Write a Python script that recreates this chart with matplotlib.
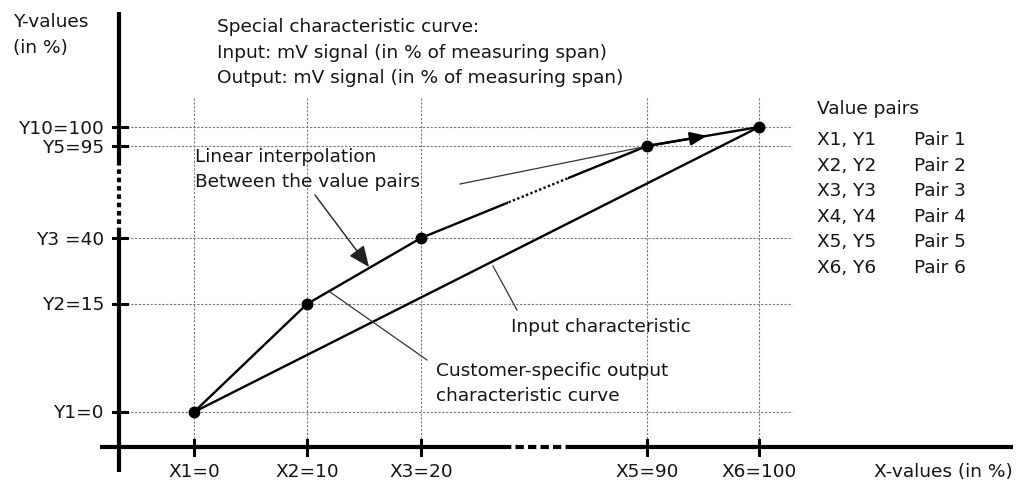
import numpy as np
import matplotlib
matplotlib.use("Agg")
import matplotlib.pyplot as plt
import matplotlib.transforms as mtransforms
from matplotlib.patches import Rectangle

# value pairs shown on the broken axes (X4 is left out of the drawing)
x_values = [0, 10, 20, 90, 100]
y_values = [0, 15, 40, 95, 100]
x_labels = ["X1=0", "X2=10", "X3=20", "X5=90", "X6=100"]
y_labels = ["Y1=0", "Y2=15", "Y3 =40", "Y5=95", "Y10=100"]

# customer-specific output curve and the input characteristic
out_x = [0, 10, 20, 90, 100]
out_y = [0, 15, 40, 95, 100]
in_x = [0, 100]
in_y = [0, 100]

pair_names = ["X1, Y1", "X2, Y2", "X3, Y3", "X4, Y4", "X5, Y5", "X6, Y6"]
pair_labels = ["Pair 1", "Pair 2", "Pair 3", "Pair 4", "Pair 5", "Pair 6"]
title_lines = ["Special characteristic curve:",
               "Input: mV signal (in % of measuring span)",
               "Output: mV signal (in % of measuring span)"]

W, H = 1028, 483
# where the values sit in the drawing (pixels from top left), axes are not to scale
x_pos = [194, 307, 421, 647, 759]
y_pos = [412, 304, 238, 146, 127]


def piecewise(src, dst):
    src = np.asarray(src, float)
    dst = np.asarray(dst, float)
    s0 = (dst[1] - dst[0]) / (src[1] - src[0])
    s1 = (dst[-1] - dst[-2]) / (src[-1] - src[-2])

    def f(v):
        v = np.asarray(v, float)
        out = np.interp(v, src, dst)
        out = np.where(v < src[0], dst[0] + (v - src[0]) * s0, out)
        out = np.where(v > src[-1], dst[-1] + (v - src[-1]) * s1, out)
        return out
    return f


yp = H - np.array(y_pos, float)
fx, fx_inv = piecewise(x_values, x_pos), piecewise(x_pos, x_values)
fy, fy_inv = piecewise(y_values, yp), piecewise(yp, y_values)

plt.rcParams['font.family'] = ['DejaVu Sans']
fs = 13.3
tc = '#141414'

fig = plt.figure(figsize=(W / 100, H / 100), dpi=100)
ax = fig.add_axes([0, 0, 1, 1])
ax.set_xscale('function', functions=(fx, fx_inv))
ax.set_yscale('function', functions=(fy, fy_inv))
ax.set_xlim(float(fx_inv(0)), float(fx_inv(W)))
ax.set_ylim(float(fy_inv(0)), float(fy_inv(H)))
ax.set_axis_off()

# pixel coords from top left, and blends of data with pixels
pix = mtransforms.Affine2D().scale(1.0 / W, -1.0 / H).translate(0, 1) + fig.transFigure
bx = mtransforms.blended_transform_factory(ax.transData, pix)
by = mtransforms.blended_transform_factory(pix, ax.transData)

# grid
grid_kw = dict(color='#777777', lw=0.8, linestyle=(0, (2, 1.5)), zorder=1)
for xv in x_values:
    ax.plot([xv, xv], [98, 447], transform=bx, **grid_kw)
for yv in y_values:
    ax.plot([119, 792], [yv, yv], transform=by, **grid_kw)

# broken axes
ax_kw = dict(color='black', lw=3, solid_capstyle='butt', zorder=3)
ax.plot([119, 119], [12, 161], transform=pix, **ax_kw)
ax.plot([119, 119], [161, 228], transform=pix, linestyle=(0, (1.1, 0.9)), **ax_kw)
ax.plot([119, 119], [228, 472], transform=pix, **ax_kw)
ax.plot([100, 508], [447, 447], transform=pix, **ax_kw)
ax.plot([508, 568], [447, 447], transform=pix, linestyle=(1.2, (2.0, 1.0)), **ax_kw)
ax.plot([568, 1013], [447, 447], transform=pix, **ax_kw)

# ticks and tick labels
for xv, lab in zip(x_values, x_labels):
    ax.plot([xv, xv], [440, 455], transform=bx, color='black', lw=2.2, zorder=3)
    ax.text(xv, 477, lab, transform=bx, ha='center', va='baseline', fontsize=fs, color=tc)
lab_tr = mtransforms.offset_copy(by, fig=fig, y=-6.5, units='dots')
for yv, lab in zip(y_values, y_labels):
    ax.plot([113, 127], [yv, yv], transform=by, color='black', lw=2.2, zorder=3)
    ax.text(104, yv, lab, transform=lab_tr, ha='right', va='baseline', fontsize=fs, color=tc)

# input characteristic
ax.plot(in_x, in_y, color='black', lw=1.7, zorder=4)

# output curve, dotted where the x axis is broken
for x0, x1, ls in [(0, 508, '-'), (508, 568, (0, (1, 1))), (568, W, '-')]:
    ln, = ax.plot(out_x, out_y, color='black', lw=1.7, linestyle=ls, zorder=4)
    ln.set_clip_path(Rectangle((x0, 0), x1 - x0, H, transform=pix))
ax.plot(out_x, out_y, 'o', color='black', ms=7.5, zorder=5)
ax.annotate('', xy=(out_x[-1], out_y[-1]), xytext=(out_x[-2], out_y[-2]),
            arrowprops=dict(arrowstyle='-|>,head_length=0.5,head_width=0.2',
                            color='black', lw=1.7, shrinkA=0, shrinkB=38,
                            mutation_scale=20), zorder=5)

# annotations
ax.annotate('', xy=(369, 267), xytext=(315, 195), xycoords=pix, textcoords=pix,
            arrowprops=dict(arrowstyle='-|>,head_length=0.65,head_width=0.28',
                            color='#222222', lw=1.0, shrinkA=0, shrinkB=0,
                            mutation_scale=20))
lead_kw = dict(transform=pix, color='#333333', lw=0.9, zorder=4)
ax.plot([460, 643], [184, 147], **lead_kw)
ax.plot([330, 427], [292, 360], **lead_kw)
ax.plot([493, 517], [266, 310], **lead_kw)

txt_kw = dict(transform=pix, ha='left', va='baseline', fontsize=fs, color=tc)
ax.text(13, 27, "Y-values", **txt_kw)
ax.text(13, 53, "(in %)", **txt_kw)
for i, s in enumerate(title_lines):
    ax.text(217, 32 + 25.7 * i, s, **txt_kw)
ax.text(195, 162, "Linear interpolation", **txt_kw)
ax.text(195, 187, "Between the value pairs", **txt_kw)
ax.text(436, 376, "Customer-specific output", **txt_kw)
ax.text(436, 401, "characteristic curve", **txt_kw)
ax.text(511, 332, "Input characteristic", **txt_kw)
ax.text(1013, 477, "X-values (in %)", transform=pix, ha='right', va='baseline',
        fontsize=fs, color=tc)

ax.text(817, 114, "Value pairs", **txt_kw)
for i, (a, b) in enumerate(zip(pair_names, pair_labels)):
    ax.text(817, 145 + 25.6 * i, a, **txt_kw)
    ax.text(914, 145 + 25.6 * i, b, **txt_kw)

fig.savefig("out.png", dpi=100)
